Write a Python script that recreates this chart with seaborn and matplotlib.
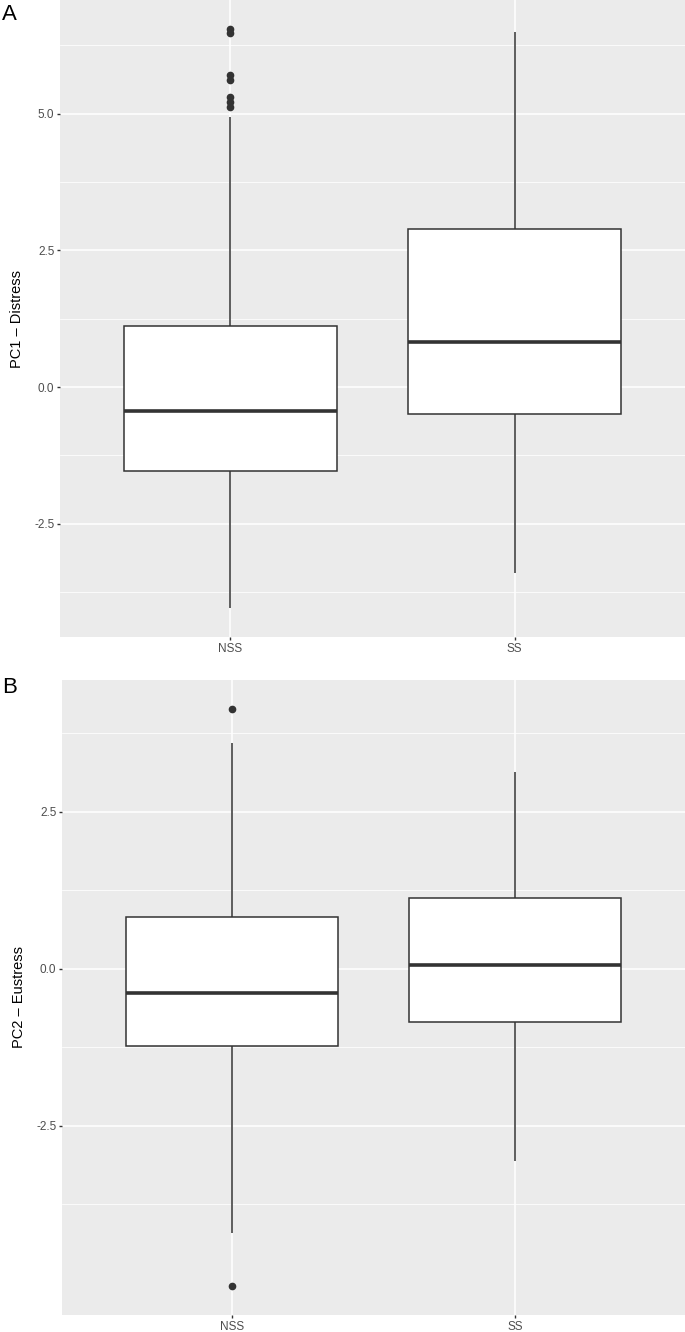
import pandas as pd
import seaborn as sns
import matplotlib.pyplot as plt

groups = ["NSS", "SS"]

# panel A - PC1 Distress, box summary
pc1_whisker_low = [-4.04, -3.40]
pc1_q1 = [-1.53, -0.50]
pc1_median = [-0.44, 0.83]
pc1_q3 = [1.12, 2.89]
pc1_whisker_high = [4.94, 6.49]
pc1_outliers = [[5.13, 5.22, 5.31, 5.61, 5.70, 6.47, 6.55], []]

# panel B - PC2 Eustress
pc2_whisker_low = [-4.21, -3.06]
pc2_q1 = [-1.22, -0.84]
pc2_median = [-0.38, 0.06]
pc2_q3 = [0.83, 1.13]
pc2_whisker_high = [3.59, 3.13]
pc2_outliers = [[-5.05, 4.14], []]


def make_sample(lo, q1, med, q3, hi, out):
    # repeat the read quartiles so the boxplot stats come out as read
    return [lo] + [q1] * 20 + [med] * 20 + [q3] * 20 + [hi] + list(out)


def make_df(lo, q1, med, q3, hi, out):
    rows = []
    for i, g in enumerate(groups):
        for v in make_sample(lo[i], q1[i], med[i], q3[i], hi[i], out[i]):
            rows.append({"group": g, "value": v})
    return pd.DataFrame(rows)


df1 = make_df(pc1_whisker_low, pc1_q1, pc1_median, pc1_q3, pc1_whisker_high, pc1_outliers)
df2 = make_df(pc2_whisker_low, pc2_q1, pc2_median, pc2_q3, pc2_whisker_high, pc2_outliers)

plt.rcParams['font.family'] = ['Liberation Sans', 'DejaVu Sans']

fig = plt.figure(figsize=(6.85, 13.32), dpi=100)
ax1 = fig.add_axes([60 / 685, 1 - 637 / 1332, 625 / 685, 637 / 1332])
ax2 = fig.add_axes([62 / 685, 1 - 1315 / 1332, 623 / 685, 635 / 1332])


def gg_box(ax, df, ylabel, major, minor):
    ax.set_facecolor("#EBEBEB")
    ax.set_axisbelow(True)
    sns.boxplot(data=df, x="group", y="value", ax=ax, order=groups, width=0.75,
                color="white", saturation=1, linecolor="#333333", linewidth=1.1,
                showcaps=False, fliersize=4.5,
                flierprops=dict(marker="o", markerfacecolor="#333333",
                                markeredgecolor="#333333"),
                medianprops=dict(linewidth=2.6, color="#333333"))
    vmin, vmax = df["value"].min(), df["value"].max()
    pad = 0.05 * (vmax - vmin)
    ax.set_ylim(vmin - pad, vmax + pad)
    ax.set_xlim(-0.6, 1.6)
    ax.set_yticks(major)
    ax.set_yticklabels(["%.1f" % t for t in major])
    ax.set_yticks(minor, minor=True)
    ax.grid(which="major", color="white", linewidth=1.1)
    ax.grid(which="minor", axis="y", color="white", linewidth=0.55)
    for s in ax.spines.values():
        s.set_visible(False)
    ax.tick_params(which="major", length=2.5, width=1, color="#333333",
                   labelcolor="#4D4D4D", labelsize=8.5, pad=1.5)
    ax.tick_params(which="minor", length=0)
    ax.set_xlabel("")
    ax.set_ylabel(ylabel, fontsize=10.5, color="black")
    ax.yaxis.set_label_coords(-0.058, 0.5)


gg_box(ax1, df1, "PC1 \u2013 Distress", [-2.5, 0.0, 2.5, 5.0], [-3.75, -1.25, 1.25, 3.75, 6.25])
gg_box(ax2, df2, "PC2 \u2013 Eustress", [-2.5, 0.0, 2.5], [-3.75, -1.25, 1.25, 3.75])

fig.text(0.003, 1 - 4 / 1332, "A", fontsize=16, va="top", ha="left")
fig.text(0.003, 1 - 677 / 1332, "B", fontsize=16, va="top", ha="left")

fig.savefig("out.png", dpi=100)
